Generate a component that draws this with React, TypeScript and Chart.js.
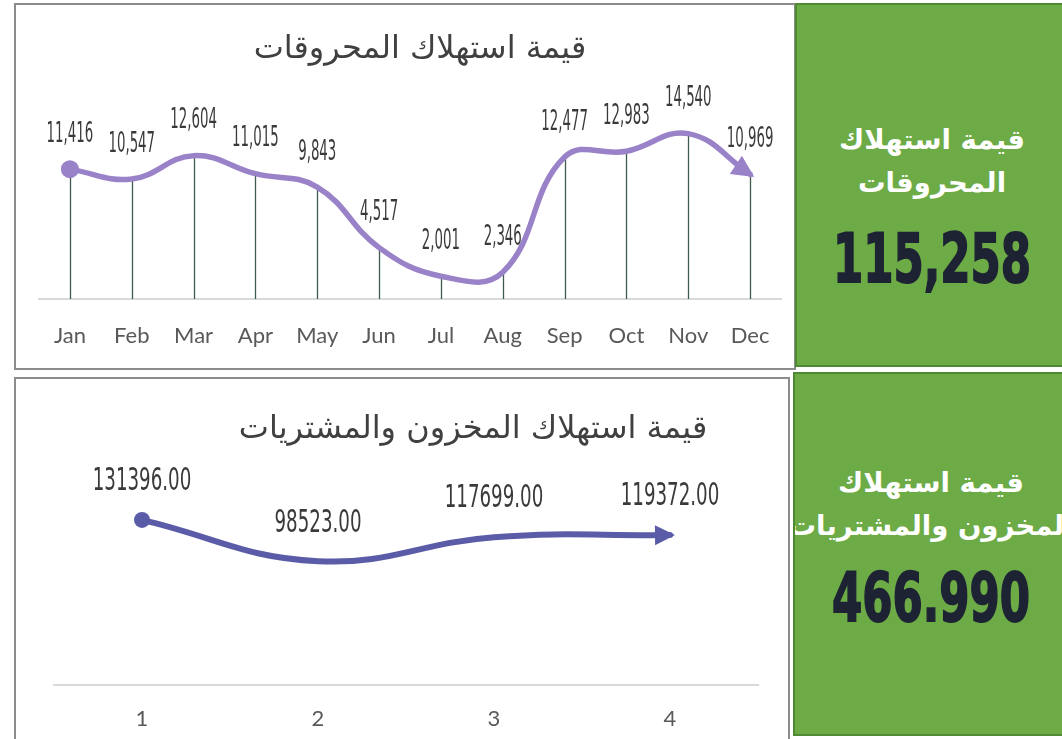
import React, { useEffect, useRef } from 'react';
import { Chart, registerables } from 'chart.js';

Chart.register(...registerables);

// ---------- data ----------
const fuelTitle = 'قيمة استهلاك المحروقات';
const months = ['Jan', 'Feb', 'Mar', 'Apr', 'May', 'Jun', 'Jul', 'Aug', 'Sep', 'Oct', 'Nov', 'Dec'];
const fuelValues = [11416, 10547, 12604, 11015, 9843, 4517, 2001, 2346, 12477, 12983, 14540, 10969];

const stockTitle = 'قيمة استهلاك المخزون والمشتريات';
const periods = ['1', '2', '3', '4'];
const stockValues = [131396, 98523, 117699, 119372];

const fuelKpiLines = ['قيمة استهلاك', 'المحروقات'];
const fuelKpiValue = '115,258';
const stockKpiLines = ['قيمة استهلاك', 'المخزون والمشتريات'];
const stockKpiValue = '466.990';

// ---------- chart ----------
type ChartProps = {
  width: number;
  height: number;
  labels: string[];
  values: number[];
  yMax: number;
  color: string;
  lineWidth: number;
  startRadius: number;
  dropLines: boolean;
  padding: { left: number; right: number; top: number; bottom: number };
  axisHeight: number;
  tickPadding: number;
  title: string;
  titleX: number;
  titleY: number;
  titleFont: string;
  labelFormat: (v: number) => string;
  labelFont: string;
  labelScaleX: number;
  labelOffset: number;
  arrowLen: number;
  arrowHalf: number;
};

function LineChart(props: ChartProps) {
  const ref = useRef<HTMLCanvasElement | null>(null);
  useEffect(() => {
    if (!ref.current) return;
    const p = props;
    const deco = {
      id: 'deco',
      beforeDatasetsDraw(chart: any) {
        if (!p.dropLines) return;
        const ctx = chart.ctx;
        const meta = chart.getDatasetMeta(0);
        const base = chart.scales.y.getPixelForValue(0);
        ctx.save();
        ctx.strokeStyle = '#3f5b4d';
        ctx.lineWidth = 1.3;
        meta.data.forEach((pt: any) => {
          const x = Math.round(pt.x) + 0.5;
          ctx.beginPath();
          ctx.moveTo(x, pt.y);
          ctx.lineTo(x, base);
          ctx.stroke();
        });
        ctx.restore();
      },
      afterDatasetsDraw(chart: any) {
        const ctx = chart.ctx;
        const pts = chart.getDatasetMeta(0).data;
        const last: any = pts[pts.length - 1];
        const prev: any = pts[pts.length - 2];
        const cx = last.cp1x ?? prev.x;
        const cy = last.cp1y ?? prev.y;
        let dx = last.x - cx;
        let dy = last.y - cy;
        const len = Math.hypot(dx, dy) || 1;
        dx /= len;
        dy /= len;
        const tipX = last.x + dx * 5;
        const tipY = last.y + dy * 5;
        const bx = tipX - dx * p.arrowLen;
        const by = tipY - dy * p.arrowLen;
        const nx = -dy;
        const ny = dx;
        ctx.save();
        ctx.fillStyle = p.color;
        ctx.beginPath();
        ctx.moveTo(tipX, tipY);
        ctx.lineTo(bx + nx * p.arrowHalf, by + ny * p.arrowHalf);
        ctx.lineTo(bx - nx * p.arrowHalf, by - ny * p.arrowHalf);
        ctx.closePath();
        ctx.fill();
        ctx.restore();
      },
      afterDraw(chart: any) {
        const ctx = chart.ctx;
        const pts = chart.getDatasetMeta(0).data;
        ctx.save();
        ctx.fillStyle = '#3a3a3a';
        ctx.font = p.labelFont;
        ctx.textAlign = 'center';
        ctx.textBaseline = 'middle';
        pts.forEach((pt: any, i: number) => {
          ctx.save();
          ctx.translate(pt.x, pt.y - p.labelOffset);
          ctx.scale(p.labelScaleX, 1);
          ctx.fillText(p.labelFormat(p.values[i]), 0, 0);
          ctx.restore();
        });
        ctx.fillStyle = '#404040';
        ctx.font = p.titleFont;
        ctx.direction = 'rtl';
        ctx.fillText(p.title, p.titleX, p.titleY);
        ctx.restore();
      },
    };
    const chart = new Chart(ref.current, {
      type: 'line',
      data: {
        labels: p.labels,
        datasets: [
          {
            data: p.values,
            borderColor: p.color,
            backgroundColor: p.color,
            borderWidth: p.lineWidth,
            borderCapStyle: 'round',
            tension: 0.42,
            fill: false,
            pointRadius: (c: any) => (c.dataIndex === 0 ? p.startRadius : 0),
            pointHoverRadius: 0,
            pointBorderWidth: 0,
            pointBackgroundColor: p.color,
          },
        ],
      },
      options: {
        responsive: false,
        animation: false,
        events: [],
        layout: { padding: p.padding, autoPadding: false },
        plugins: { legend: { display: false }, title: { display: false }, tooltip: { enabled: false } },
        scales: {
          x: {
            offset: true,
            grid: { display: false, drawTicks: false },
            border: { display: true, color: '#d9d9d9', width: 2 },
            ticks: { color: '#595959', padding: p.tickPadding, maxRotation: 0, font: { family: 'Lato, "Open Sans", sans-serif', size: 22 } },
            afterFit: (s: any) => {
              s.height = p.axisHeight;
            },
          },
          y: { display: false, min: 0, max: p.yMax },
        },
      },
      plugins: [deco],
    } as any);
    return () => chart.destroy();
  }, []);
  return <canvas ref={ref} width={props.width} height={props.height} style={{ width: props.width, height: props.height, display: 'block' }} />;
}

const GREEN = '#6cab46';
const GREEN_BORDER = '#4e8a33';

function Kpi(props: { left: number; top: number; width: number; height: number; lines: string[]; lineTops: number[]; value: string; valueTop: number }) {
  const wide = 700;
  const off = (props.width - wide) / 2;
  return (
    <div style={{ position: 'absolute', left: props.left, top: props.top, width: props.width, height: props.height, background: GREEN, border: `2px solid ${GREEN_BORDER}`, boxSizing: 'border-box', overflow: 'hidden' }}>
      {props.lines.map((t, i) => (
        <div key={i} dir="rtl" style={{ position: 'absolute', left: off, width: wide, top: props.lineTops[i], textAlign: 'center', color: '#ffffff', fontFamily: '"DejaVu Sans", sans-serif', fontWeight: 'bold', fontSize: 27.5, lineHeight: '40px', whiteSpace: 'nowrap' }}>{t}</div>
      ))}
      <div style={{ position: 'absolute', left: off, width: wide, top: props.valueTop, textAlign: 'center', color: '#1e2334', fontFamily: '"DejaVu Sans", sans-serif', fontWeight: 'bold', fontSize: 68, lineHeight: '80px', transform: 'scaleX(0.64)', WebkitTextStroke: '2px #1e2334', whiteSpace: 'nowrap' }}>{props.value}</div>
    </div>
  );
}

export default function App() {
  return (
    <div style={{ position: 'absolute', left: 0, top: 0, width: 1062, height: 739, background: '#ffffff', overflow: 'hidden' }}>
      <div style={{ position: 'absolute', left: 14, top: 3, width: 782, height: 367, border: '2px solid #8c8c8c', boxSizing: 'border-box' }} />
      <div style={{ position: 'absolute', left: 16, top: 5 }}>
        <LineChart
          width={778}
          height={362}
          labels={months}
          values={fuelValues}
          yMax={16000}
          color="#9a82c9"
          lineWidth={5.5}
          startRadius={9}
          dropLines={true}
          padding={{ left: 23, right: 13, top: 112, bottom: 0 }}
          axisHeight={68}
          tickPadding={24}
          title={fuelTitle}
          titleX={404}
          titleY={45}
          titleFont='32px "DejaVu Sans", sans-serif'
          labelFormat={(v) => v.toLocaleString('en-US')}
          labelFont='29px "DejaVu Sans", sans-serif'
          labelScaleX={0.46}
          labelOffset={35}
          arrowLen={22}
          arrowHalf={11}
        />
      </div>
      <Kpi left={795} top={3} width={270} height={364} lines={fuelKpiLines} lineTops={[114, 157]} value={fuelKpiValue} valueTop={214} />

      <div style={{ position: 'absolute', left: 14, top: 377, width: 776, height: 372, border: '2px solid #8c8c8c', boxSizing: 'border-box' }} />
      <div style={{ position: 'absolute', left: 16, top: 379 }}>
        <LineChart
          width={772}
          height={360}
          labels={periods}
          values={stockValues}
          yMax={160000}
          color="#5b5ca8"
          lineWidth={6}
          startRadius={8}
          dropLines={false}
          padding={{ left: 38, right: 30, top: 105, bottom: 0 }}
          axisHeight={54}
          tickPadding={21}
          title={stockTitle}
          titleX={457}
          titleY={51}
          titleFont='32px "DejaVu Sans", sans-serif'
          labelFormat={(v) => v.toFixed(2)}
          labelFont='32px "DejaVu Sans", sans-serif'
          labelScaleX={0.57}
          labelOffset={38}
          arrowLen={20}
          arrowHalf={10}
        />
      </div>
      <Kpi left={793} top={372} width={272} height={364} lines={stockKpiLines} lineTops={[88, 131]} value={stockKpiValue} valueTop={184} />
    </div>
  );
}
